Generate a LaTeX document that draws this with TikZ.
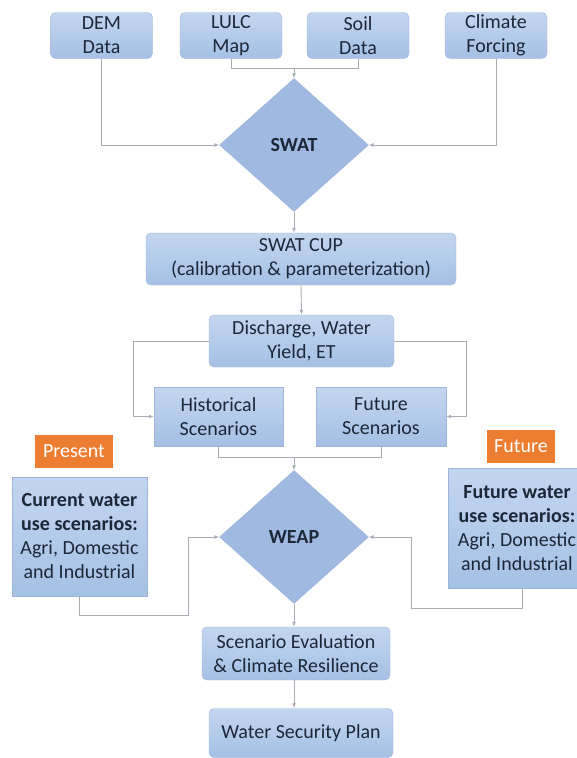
\documentclass[tikz,border=0pt]{standalone}
\usepackage{fontspec}
\setmainfont{Carlito}
\usepackage{xcolor}
\usetikzlibrary{arrows.meta,positioning,shapes.geometric}

\definecolor{boxtop}{HTML}{C3D6EF}
\definecolor{boxbot}{HTML}{A5C0E4}
\definecolor{boxline}{HTML}{9DB5DA}
\definecolor{diafill}{HTML}{9FB9E0}
\definecolor{tagorange}{HTML}{ED7D31}
\definecolor{inktext}{HTML}{1C2738}
\definecolor{linegray}{HTML}{A8ADB5}

\begin{document}
\begin{tikzpicture}[
    x=1pt, y=-1pt,
    font=\fontsize{20}{24}\selectfont,
    box/.style={draw=boxline, top color=boxtop, bottom color=boxbot,
                rounded corners=5pt, align=center, text=inktext,
                inner sep=0pt, minimum width=#1},
    box/.default=102pt,
    sqbox/.style={box=#1, rounded corners=0pt},
    decision/.style={diamond, draw=boxline, fill=diafill, text=inktext,
                     inner sep=0pt, minimum width=149pt, minimum height=133pt,
                     font=\fontsize{20}{24}\selectfont\bfseries},
    tagbox/.style={fill=tagorange, text=white, inner sep=0pt, minimum height=33pt},
    line/.style={draw=linegray, line width=0.9pt},
    arr/.style={line, -{Latex[length=5pt,width=4pt]}}
]
\clip (0,0) rectangle (577,758);

% inputs
\node[box, minimum height=46pt] (dem) at (101.5,35.5) {DEM\\Data};
\node[box, minimum height=46pt] (lulc) at (231,35.5) {LULC\\Map};
\node[box, minimum height=46pt] (soil) at (358,35.5) {Soil\\Data};
\node[box, minimum height=46pt] (climate) at (496,35.5) {Climate\\Forcing};

\node[decision] (swat) at (294,145) {SWAT};

\node[box=310pt, minimum height=52pt] (cup) at (301,259)
    {SWAT CUP\\(calibration \& parameterization)};
\node[box=185pt, minimum height=52pt] (disch) at (301.5,341)
    {Discharge, Water\\Yield, ET};

\node[sqbox=129pt, minimum height=59pt] (hist) at (218.5,416.5)
    {Historical\\Scenarios};
\node[sqbox=130pt, minimum height=59pt] (futsc) at (381,416.5)
    {Future\\Scenarios};

\node[decision] (weap) at (294,537) {WEAP};

% water use
\node[tagbox, minimum width=78pt] (present) at (74,451.5) {Present};
\node[sqbox=135pt, minimum height=119pt] (curwater) at (79.5,536.5)
    {\textbf{Current water}\\\textbf{use scenarios:}\\Agri, Domestic\\and Industrial};
\node[tagbox, minimum width=68pt] (future) at (521,446) {Future};
\node[sqbox=138pt, minimum height=120pt] (futwater) at (517,528)
    {\textbf{Future water}\\\textbf{use scenarios:}\\Agri, Domestic\\and Industrial};

\node[box=188pt, minimum height=53pt] (evalu) at (296,653.5)
    {Scenario Evaluation\\\& Climate Resilience};
\node[box=184pt, minimum height=49pt] (plan) at (301,733)
    {Water Security Plan};

\coordinate (topjoin) at (294,68);
\coordinate (botjoin) at (294,457);
\coordinate (lbend) at (188,615);
\coordinate (rbend) at (411,608);
\coordinate (futfoot) at (522,588);

\draw[arr] (dem.south) |- (swat.west);
\draw[arr] (climate.south) |- (swat.east);
\draw[line] (lulc.south) |- (topjoin);
\draw[line] (soil.south) |- (topjoin);
\draw[arr] (topjoin) -- (swat.north);
\draw[arr] (swat.south) -- (swat.south |- cup.north);
\draw[arr] (cup.south) -- (disch.north);
\draw[arr] (disch.west) -- ++(-75,0) |- (hist.west);
\draw[arr] (disch.east) -- ++(72,0) |- (futsc.east);
\draw[line] (hist.south) |- (botjoin);
\draw[line] (futsc.south) |- (botjoin);
\draw[arr] (botjoin) -- (weap.north);
\draw[arr] (curwater.south) |- (lbend) |- (weap.west);
\draw[arr] (futfoot) |- (rbend) |- (weap.east);
\draw[arr] (weap.south) -- (weap.south |- evalu.north);
\draw[arr] (evalu.south -| weap.south) -- (weap.south |- plan.north);

\end{tikzpicture}
\end{document}
